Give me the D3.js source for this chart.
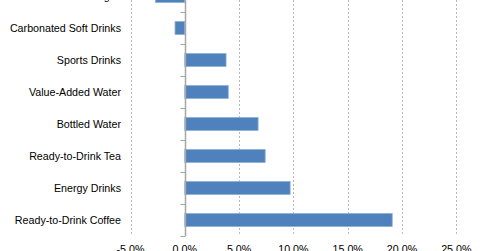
<!DOCTYPE html>
<html>
<head>
<meta charset="utf-8">
<script src="https://cdn.jsdelivr.net/npm/d3@7"></script>
<style>
  body { margin: 0; background: #fff; }
  svg { display: block; }
  text { font-family: "Liberation Sans", Arial, sans-serif; font-size: 10.7px; fill: #000; }
</style>
</head>
<body>
<svg id="chart"></svg>
<script>
var categories = [
  "Fruit Beverages",
  "Carbonated Soft Drinks",
  "Sports Drinks",
  "Value-Added Water",
  "Bottled Water",
  "Ready-to-Drink Tea",
  "Energy Drinks",
  "Ready-to-Drink Coffee"
];
var growth = [-2.7, -0.9, 3.8, 4.0, 6.75, 7.4, 9.7, 19.1];
var xTicks = [-5, 0, 5, 10, 15, 20, 25];

const width = 480,
  height = 251,
  plot = { left: 130.5, right: 456.3, top: -20, bottom: 236 };

const svg = d3.select("#chart")
  .attr("width", width)
  .attr("height", height);

const x = d3.scaleLinear()
  .domain([-5, 25])
  .range([plot.left, plot.right]);

const y = d3.scaleBand()
  .domain(categories)
  .range([plot.top, plot.bottom])
  .paddingInner(0.59)
  .paddingOuter(0.295);

// dotted gridlines
svg.append("g")
  .selectAll("line")
  .data(xTicks.filter((d) => d !== 0))
  .enter()
  .append("line")
  .attr("x1", (d) => Math.round(x(d)) + 0.5)
  .attr("x2", (d) => Math.round(x(d)) + 0.5)
  .attr("y1", 0)
  .attr("y2", plot.bottom)
  .attr("stroke", "#b8b8b8")
  .attr("stroke-width", 1)
  .attr("stroke-dasharray", "2,2");

// bars
svg.append("g")
  .selectAll("rect")
  .data(categories)
  .enter()
  .append("rect")
  .attr("x", (d, i) => x(Math.min(0, growth[i])))
  .attr("y", (d) => y(d))
  .attr("width", (d, i) => Math.abs(x(growth[i]) - x(0)))
  .attr("height", y.bandwidth())
  .attr("fill", "#4f81bd")
  .attr("stroke", "#8fb0d9")
  .attr("stroke-width", 0.8);

// category axis at zero
const step = y.step();
const boundaries = d3.range(categories.length + 1).map((i) => plot.top + i * step);
const zeroX = Math.round(x(0)) + 0.5;

svg.append("line")
  .attr("x1", zeroX)
  .attr("x2", zeroX)
  .attr("y1", 0)
  .attr("y2", plot.bottom)
  .attr("stroke", "#a6a6a6")
  .attr("stroke-width", 1.5);

svg.append("g")
  .selectAll("line")
  .data(boundaries)
  .enter()
  .append("line")
  .attr("x1", zeroX - 5)
  .attr("x2", zeroX)
  .attr("y1", (d) => Math.round(d) + 0.5)
  .attr("y2", (d) => Math.round(d) + 0.5)
  .attr("stroke", "#a6a6a6")
  .attr("stroke-width", 1);

// category labels
svg.append("g")
  .selectAll("text")
  .data(categories)
  .enter()
  .append("text")
  .attr("x", 121)
  .attr("y", (d) => y(d) + y.bandwidth() / 2)
  .attr("dy", "0.36em")
  .style("text-anchor", "end")
  .text((d) => d);

// value labels
svg.append("g")
  .selectAll("text")
  .data(xTicks)
  .enter()
  .append("text")
  .attr("x", (d) => x(d))
  .attr("y", 253)
  .style("text-anchor", "middle")
  .text((d) => d.toFixed(1) + "%");
</script>
</body>
</html>
